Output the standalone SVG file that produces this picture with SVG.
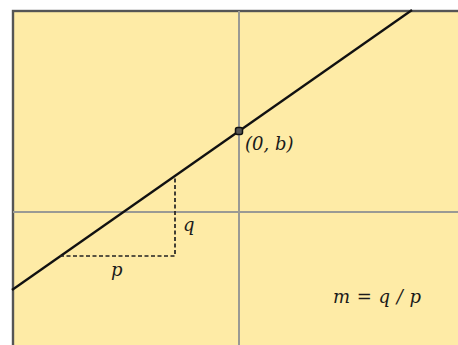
<svg xmlns="http://www.w3.org/2000/svg" width="458" height="345" viewBox="0 0 458 345">
<style>
.lbl{font-family:"DejaVu Serif","Liberation Serif",serif;font-style:italic;font-size:18px;fill:#1a1a1a}
.axis{stroke:#9a9a94;stroke-width:2;fill:none}
</style>
<rect x="0" y="0" width="458" height="345" fill="#ffffff"/>
<rect id="frame" x="13" y="11" width="460" height="350" fill="#feeba6" stroke="#555" stroke-width="2.4"/>
<g id="axes">
<line class="axis" x1="239" y1="11" x2="239" y2="345"/>
<line class="axis" x1="13" y1="212" x2="458" y2="212" stroke="#8f95a0" stroke-width="1.6"/>
</g>
<g id="connectors">
<line id="line" x1="12" y1="290" x2="412" y2="10" stroke="#111" stroke-width="2.3"/>
<polyline id="triangle" points="60,256 175,256 175,176" fill="none" stroke="#222" stroke-width="1.7" stroke-dasharray="4,2.5"/>
</g>
<g id="intercept">
<rect x="235.5" y="127.5" width="7" height="7" rx="2" fill="#555" stroke="#111" stroke-width="1.5"/>
<text class="lbl" x="245" y="150">(0, b)</text>
</g>
<g id="labels">
<text class="lbl" x="183" y="231">q</text>
<text class="lbl" x="111" y="276">p</text>
<text class="lbl" x="333" y="303" letter-spacing="0.5">m = q / p</text>
</g>
</svg>
